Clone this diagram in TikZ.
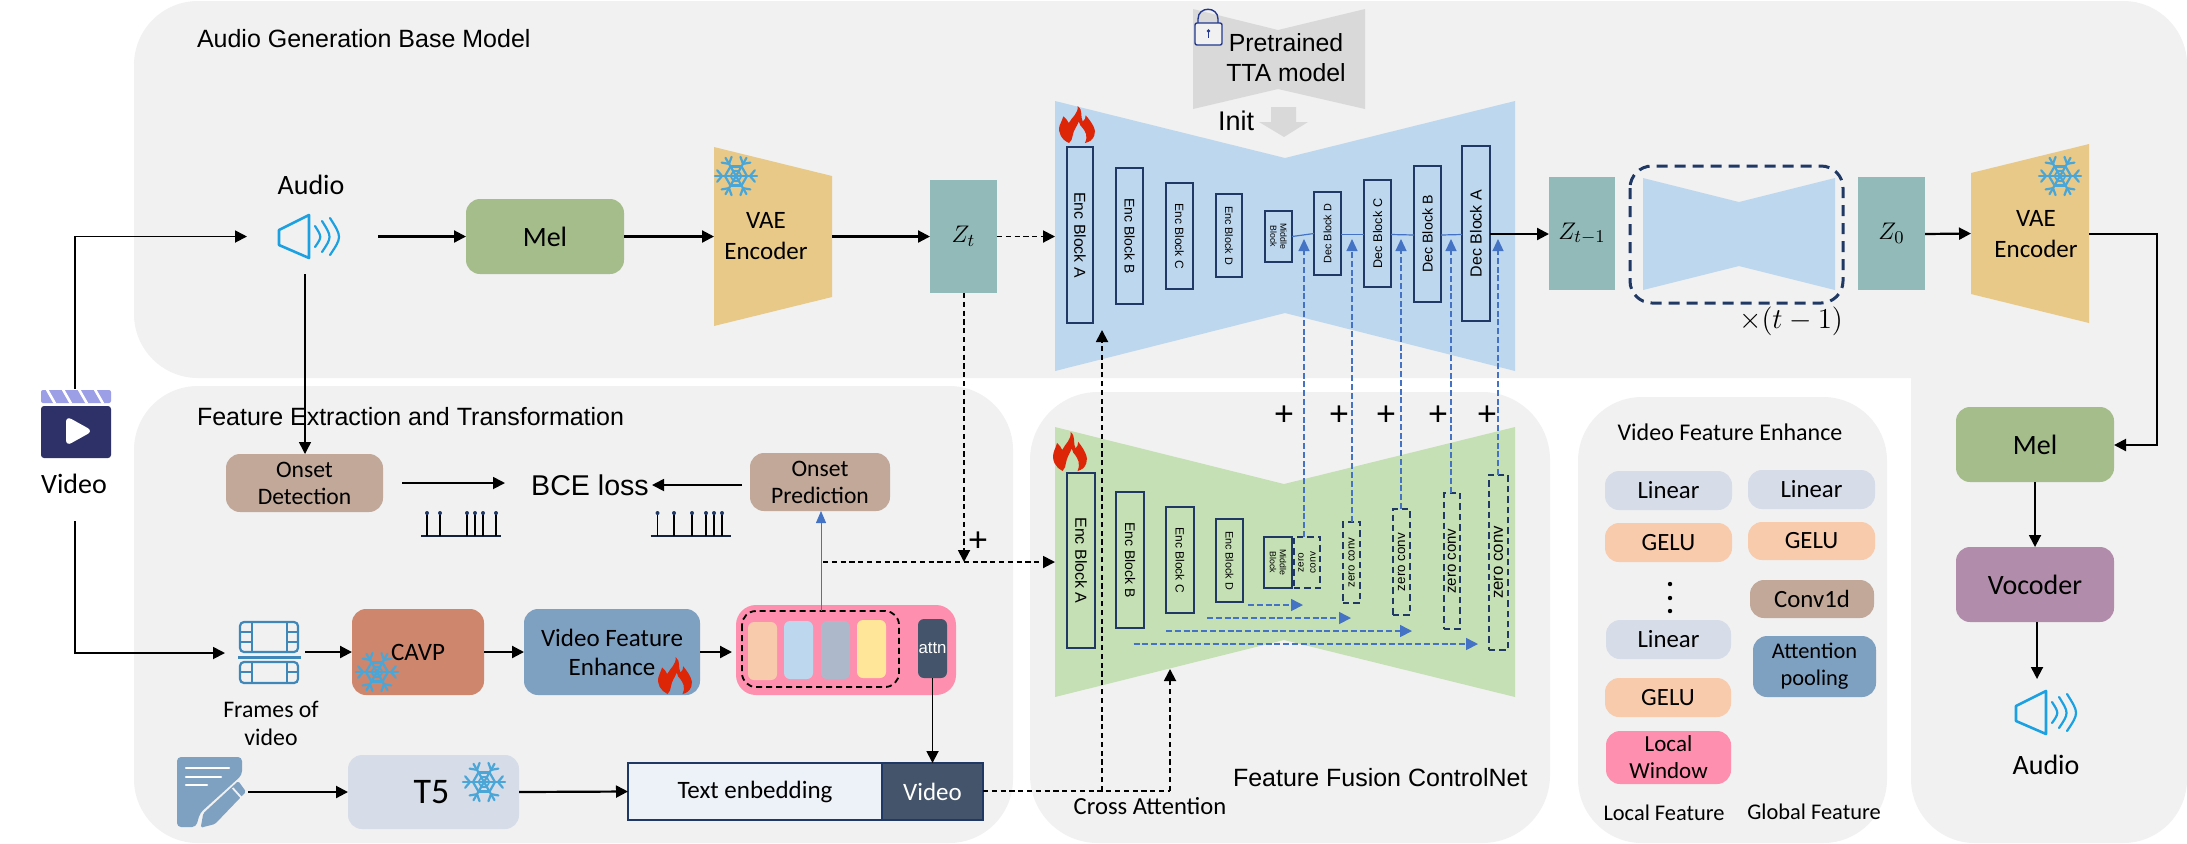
\documentclass[tikz,border=0pt]{standalone}
\usepackage{fontspec}
\setmainfont{Carlito}
\newfontfamily\ar{Liberation Sans}
\usetikzlibrary{arrows.meta,calc}
\definecolor{panelc}{HTML}{F1F1F1}
\definecolor{navyb}{HTML}{1F3864}
\definecolor{lockc}{HTML}{23388F}
\definecolor{bluef}{HTML}{BDD7EE}
\definecolor{greenf}{HTML}{C5E0B4}
\definecolor{melc}{HTML}{A5BD8B}
\definecolor{vaec}{HTML}{E9C987}
\definecolor{zc}{HTML}{91BAB9}
\definecolor{brownc}{HTML}{C1A899}
\definecolor{lbl}{HTML}{D6DCE8}
\definecolor{orng}{HTML}{F8CBAD}
\definecolor{pinkc}{HTML}{FF8FAE}
\definecolor{steel}{HTML}{7FA1C1}
\definecolor{slate}{HTML}{44546A}
\definecolor{terra}{HTML}{CE866C}
\definecolor{purp}{HTML}{B28DAB}
\definecolor{arblue}{HTML}{4472C4}
\definecolor{spkc}{HTML}{1BA1E2}
\definecolor{snowc}{HTML}{4BA6D8}
\definecolor{flamec}{HTML}{DD2508}
\definecolor{grayf}{HTML}{D9D9D9}
\definecolor{playn}{HTML}{2E3168}
\definecolor{lav}{HTML}{9C9EE6}
\definecolor{film}{HTML}{3F86B9}
\definecolor{bargray}{HTML}{ADB9CA}
\definecolor{baryel}{HTML}{FFE699}
\definecolor{txtfill}{HTML}{EDF2F9}
\newcommand{\fsz}[2]{\fontsize{#1}{#2}\selectfont}
\newcommand{\bx}[7]{%
 \pgfmathsetmacro\bxw{(#5-#3)*0.5}\pgfmathsetmacro\bxh{(#6-#4)*0.5}%
 \node[#1,minimum width=\bxw pt,minimum height=\bxh pt] (#2) at ({(#3+#5)/2},{(#4+#6)/2}) {#7};}
\newcommand{\flameicon}[4]{%
 \pgfmathsetmacro\fw{(#3-#1)*0.5}\pgfmathsetmacro\fh{(#4-#2)*0.5}%
 \begin{scope}[shift={(#1,#2)},x=\fw pt,y=-\fh pt]
 \fill[flamec] (0.28,1) .. controls (0.08,0.92) and (-0.05,0.72) .. (0.02,0.52)
  .. controls (0.05,0.42) and (0.1,0.38) .. (0.12,0.28)
  .. controls (0.2,0.34) and (0.24,0.4) .. (0.27,0.46)
  .. controls (0.36,0.3) and (0.54,0.2) .. (0.52,0)
  .. controls (0.68,0.12) and (0.58,0.28) .. (0.66,0.42)
  .. controls (0.72,0.38) and (0.74,0.32) .. (0.74,0.25)
  .. controls (0.92,0.45) and (1.05,0.65) .. (0.98,0.8)
  .. controls (0.93,0.92) and (0.85,0.97) .. (0.72,1)
  .. controls (0.82,0.8) and (0.72,0.68) .. (0.66,0.6)
  .. controls (0.62,0.56) and (0.56,0.5) .. (0.55,0.42)
  .. controls (0.5,0.55) and (0.4,0.65) .. (0.38,0.8)
  .. controls (0.37,0.88) and (0.34,0.95) .. (0.28,1) -- cycle;
 \end{scope}}
\newcommand{\snowicon}[2]{%
 \begin{scope}[shift={(#1,#2)},draw=snowc,line width=1.1pt,line cap=round]
 \foreach \a in {0,60,...,300}{
  \draw (0,0) -- ++(\a:21);
  \draw ($(\a:14)$) -- ++(\a+50:7.5);
  \draw ($(\a:14)$) -- ++(\a-50:7.5);
  \draw ($(\a:11)$) -- ($(\a+60:11)$);
  \draw[line width=.8pt] ($(\a:5.5)$) -- ($(\a+60:5.5)$);
 }
 \end{scope}}
\newcommand{\spkricon}[2]{%
 \begin{scope}[shift={(#1,#2)},draw=spkc,line join=round,line cap=round]
 \draw[line width=1.3pt] (30,0) -- (30,43) -- (0,30) -- (0,15) -- cycle;
 \draw[line width=1.1pt] (36,11) .. controls (43,22) .. (36,32);
 \draw[line width=1.1pt] (43,6) .. controls (53,22) .. (43,37);
 \draw[line width=1.1pt] (51,3) .. controls (63,22) .. (51,40);
 \end{scope}}
\tikzset{
 box/.style={inner sep=0pt,outer sep=0pt,rounded corners=7pt,fill=#1,align=center},
 plainlbl/.style={inner sep=0pt,outer sep=0pt,align=center},
 blockb/.style={inner sep=0pt,outer sep=0pt,draw=navyb,line width=1.1pt,align=center},
 zerob/.style={inner sep=0pt,outer sep=0pt,draw=navyb,line width=1pt,align=center,dash pattern=on 3.2pt off 2pt},
 arr/.style={line width=1.1pt,-{Triangle[length=6pt,width=6pt]}},
 thinarr/.style={line width=.7pt,-{Triangle[length=6pt,width=6pt]}},
 dasharr/.style={line width=.95pt,dash pattern=on 2.6pt off 1.8pt,-{Triangle[length=6pt,width=6pt]}},
 dashln/.style={line width=.95pt,dash pattern=on 2.6pt off 1.8pt},
 bluearr/.style={draw=arblue,line width=.6pt,dash pattern=on 3pt off 1.4pt,-{Triangle[length=6pt,width=5.5pt,fill=arblue]}},
 bluehz/.style={draw=arblue,line width=.8pt,dash pattern=on 3pt off 1.4pt,-{Triangle[length=6pt,width=6pt,fill=arblue]}},
 bluesolid/.style={draw=arblue,line width=.6pt},
 plussign/.style={inner sep=0pt,font=\ar\fsz{17}{18}},
}
\begin{document}
\begin{tikzpicture}[x=0.5pt,y=-0.5pt]
\useasboundingbox (0,0) rectangle (2187,843);
\fill[white] (0,0) rectangle (2187,843);
% panels
\fill[panelc,rounded corners=32pt] (134,1) rectangle (2187,378);
\fill[panelc,rounded corners=32pt] (1911,3) rectangle (2187,843);
\fill[panelc] (1950,300) rectangle (2100,378);
\fill[panelc,rounded corners=32pt] (134,386) rectangle (1013,843);
\fill[panelc,rounded corners=34pt] (1030,392) rectangle (1550,843);
\fill[panelc,rounded corners=32pt] (1578,397) rectangle (1887,843);
% titles
\node[plainlbl,font=\ar\fsz{12.5}{14},anchor=west] (ttlA) at (197,39) {Audio Generation Base Model};
\node[plainlbl,font=\ar\fsz{12.5}{14},anchor=west] (ttlF) at (197,417) {Feature Extraction and Transformation};
% ---- top row
\node[plainlbl,font=\fsz{14}{16}] (audioA) at (311,185) {Audio};
\spkricon{279}{215}
\coordinate (spkW) at (247,236.5);
\coordinate (spkE) at (378,236.5);
\coordinate (spkS) at (305,274);
\bx{box=melc}{mel}{466}{199}{624}{274}{\fsz{14}{16}Mel}
\fill[vaec] (714,147) -- (832,176) -- (832,297) -- (714,326) -- cycle;
\coordinate (vaeW) at (714,236.5);
\coordinate (vaeE) at (832,236.5);
\node[plainlbl,font=\fsz{12.5}{15.5}] (vaeT) at (766,236.5) {VAE\\Encoder};
\snowicon{736}{176}
\bx{fill=zc,plainlbl}{zt}{930}{180}{997}{293}{\fsz{13}{14}$Z_t$}
% pretrained
\fill[grayf] (1193,9) -- (1278,30) -- (1365,9) -- (1365,109) -- (1278,89) -- (1193,109) -- cycle;
\node[plainlbl,font=\ar\fsz{12.4}{15}] (pre) at (1286,58) {Pretrained\\TTA model};
\node[plainlbl,font=\ar\fsz{13.5}{15}] (initT) at (1236,121) {Init};
\fill[grayf] (1271,107) -- (1296,107) -- (1296,122) -- (1308,122) -- (1284,137) -- (1259,122) -- (1271,122) -- cycle;
% lock
\draw[lockc,line width=.7pt] (1198,23) -- (1198,19) .. controls (1198,6) and (1218,6) .. (1218,19) -- (1218,23);
\draw[lockc,line width=.7pt,fill=panelc,rounded corners=1pt] (1195,23) rectangle (1222,45);
\fill[lockc] (1208.5,31) circle (1.8);
\draw[lockc,line width=.7pt] (1208.5,31) -- (1208.5,38);
% blue unet
\fill[bluef] (1055,101) -- (1285,158) -- (1285,313) -- (1055,371) -- cycle;
\fill[bluef] (1515,101) -- (1285,158) -- (1285,313) -- (1515,371) -- cycle;
\flameicon{1059}{106}{1095}{143}
\bx{blockb}{encA}{1067}{147}{1093}{323}{\rotatebox{-90}{\ar\fsz{7.9}{9}Enc Block A}}
\bx{blockb}{encB}{1116}{168}{1143}{304}{\rotatebox{-90}{\ar\fsz{7}{8}Enc Block B}}
\bx{blockb}{encC}{1166}{183}{1193}{289}{\rotatebox{-90}{\ar\fsz{6}{7}Enc Block C}}
\bx{blockb}{encD}{1216}{194}{1242}{277}{\rotatebox{-90}{\ar\fsz{5.4}{6}Enc Block D}}
\bx{blockb}{midB}{1265}{211}{1292}{262}{\rotatebox{-90}{\parbox{20pt}{\centering\ar\fsz{4.4}{5}Middle\\Block}}}
\bx{blockb}{decD}{1314}{192}{1341}{275}{\rotatebox{90}{\ar\fsz{5.4}{6}Dec Block D}}
\bx{blockb}{decC}{1364}{180}{1391}{287}{\rotatebox{90}{\ar\fsz{6.3}{7}Dec Block C}}
\bx{blockb}{decB}{1414}{166}{1441}{302}{\rotatebox{90}{\ar\fsz{7.1}{8}Dec Block B}}
\bx{blockb}{decA}{1462}{146}{1490}{321}{\rotatebox{90}{\ar\fsz{8}{9}Dec Block A}}
\draw[bluesolid] (midB.east) -- (decD.west);
\draw[bluesolid] ([yshift=-0.5pt]decD.east) -- ([yshift=-0.5pt]decC.west);
\draw[bluesolid] ([yshift=-0.5pt]decC.east) -- ([yshift=-0.5pt]decB.west);
\draw[bluesolid] ([yshift=-0.5pt]decB.east) -- ([yshift=-0.5pt]decA.west);
% right of unet
\bx{fill=zc,plainlbl}{ztm}{1549}{177}{1615}{290}{\fsz{13}{14}$Z_{t-1}$}
\fill[bluef] (1643,178) -- (1739,202) -- (1739,266) -- (1643,290) -- cycle;
\fill[bluef] (1835,178) -- (1739,202) -- (1739,266) -- (1835,290) -- cycle;
\draw[navyb,line width=1.5pt,rounded corners=11pt,dash pattern=on 5.5pt off 3.5pt] (1630,166) rectangle (1843,303);
\node[plainlbl,font=\fsz{14}{15}] (mult) at (1791,321) {$\times(t-1)$};
\bx{fill=zc,plainlbl}{zz}{1858}{177}{1925}{290}{\fsz{13}{14}$Z_0$}
\fill[vaec] (1971,173) -- (2089,144) -- (2089,323) -- (1971,294) -- cycle;
\coordinate (vbW) at (1971,233.5);
\coordinate (vbE) at (2089,234);
\node[plainlbl,font=\fsz{12.5}{15.5}] (vbT) at (2036,234.5) {VAE\\Encoder};
\snowicon{2060}{176}
\draw[arr] (spkE) -- (mel.west);
\draw[arr] (mel.east) -- (vaeW);
\draw[arr] (vaeE) -- (zt.west);
\coordinate (unetW) at (1055,236.5);
\draw[dasharr] (zt.east) -- (unetW);
\draw[arr] (decA.east |- 0,234) -- (ztm.west |- 0,234);
\draw[arr] (zz.east |- 0,234) -- (vbW);
% right panel
\bx{box=melc}{melB}{1956}{407}{2114}{482}{\fsz{14}{16}Mel}
\bx{box=purp}{voc}{1956}{547}{2114}{622}{\fsz{14}{16}Vocoder}
\spkricon{2016}{691}
\node[plainlbl,font=\fsz{14}{16}] (audioB) at (2046,765) {Audio};
\coordinate (spkBN) at (2037,679);
\draw[arr] (vbE) -| (2157,445) -- (melB.east |- 0,445);
\draw[thinarr,line width=.9pt] (melB.south) -- (voc.north);
\draw[thinarr,line width=.9pt] (voc.south -| spkBN) -- (spkBN);
% video icon
\fill[lav,rounded corners=1pt] (41,390) rectangle (111,403);
\foreach \i in {0,1,2,3}{\draw[white,line width=1.3pt] ({47+\i*16},389.5) -- ({55+\i*16},403.5);}
\fill[playn,rounded corners=1.5pt] (41,406) rectangle (111,458);
\fill[white,rounded corners=3pt] (66,416) -- (93,431) -- (66,446) -- cycle;
\coordinate (vidN) at (75,389);
\coordinate (vidS) at (75,521);
\node[plainlbl,font=\fsz{14}{16}] (videoT) at (74,484) {Video};
\draw[arr,line width=.9pt] (vidN) |- (spkW);
% onset row
\bx{box=brownc,font=\fsz{11.8}{13.5}}{onD}{226}{454}{383}{512}{Onset\\Detection}
\bx{box=brownc,font=\fsz{11.8}{13.5}}{onP}{750}{453}{890}{511}{Onset\\Prediction}
\draw[thinarr] (spkS) -- (onD.north -| spkS);
\node[plainlbl,font=\ar\fsz{14.3}{16}] (bce) at (590,485) {BCE loss};
\coordinate (bceW) at (505,483);
\coordinate (odE) at (402,483);
\coordinate (bceE) at (652,485);
\coordinate (opW) at (742,485);
\draw[arr,line width=.9pt] (odE) -- (bceW);
\draw[arr,line width=.9pt] (opW) -- (bceE);
\draw[navyb!60!black,line width=.9pt] (421,536) -- (501,536);
\foreach \s in {427,440,467,475,483,496}{\draw[black,line width=.7pt] (\s,536) -- (\s,512); \fill[navyb] (\s,513) circle (2);}
\draw[navyb!60!black,line width=.9pt] (650.5,536) -- (731,536);
\foreach \s in {657.5,674,692,706,714,722}{\draw[black,line width=.7pt] (\s,536) -- (\s,512); \fill[navyb] (\s,513) circle (2);}
% frames row
\begin{scope}[draw=film,line width=1.1pt]
\draw[rounded corners=2pt] (240,652) -- (240,622) -- (298,622) -- (298,652) -- cycle;
\draw[rounded corners=2pt] (240,662) -- (240,683) -- (298,683) -- (298,662) -- cycle;
\draw (252,622) -- (252,652) (287,622) -- (287,652) (252,662) -- (252,683) (287,662) -- (287,683);
\foreach \yy in {632,642,672}{\draw (240,\yy) -- (252,\yy) (287,\yy) -- (298,\yy);}
\draw[line width=1.5pt] (238,657) -- (301,657);
\end{scope}
\coordinate (frW) at (225,653);
\coordinate (frE) at (305,652);
\node[plainlbl,font=\fsz{11.9}{14}] (frT) at (271,723) {Frames of\\video};
\draw[arr,line width=.9pt] (vidS) |- (frW);
\bx{box=terra}{cavp}{352}{609}{484}{695}{\fsz{12.5}{14}CAVP}
\snowicon{377}{672}
\bx{box=steel,font=\fsz{12.5}{14.5}}{vfe}{524}{609}{700}{695}{Video Feature\\Enhance}
\flameicon{658}{657}{692}{694}
\bx{box=pinkc,rounded corners=10pt}{pk}{736}{605}{956}{695}{}
\draw[arr] (frE) -- (cavp.west);
\draw[arr] (cavp.east) -- (vfe.west);
\coordinate (pkW) at (732,652);
\draw[arr] (vfe.east) -- (pkW);
\bx{box=orng,rounded corners=3pt}{ba}{748}{622}{777}{680}{}
\bx{box=bluef,rounded corners=3pt}{bb}{784}{621}{813}{679}{}
\bx{box=bargray,rounded corners=3pt}{bc}{821}{621}{850}{679}{}
\bx{box=baryel,rounded corners=3pt}{bd}{857}{620}{886}{678}{}
\draw[black,line width=.9pt,rounded corners=7pt,dash pattern=on 3pt off 2pt] (742,611) rectangle (899,687);
\bx{box=slate,rounded corners=3pt,text=white}{attn}{918}{619}{947}{678}{\ar\fsz{8.4}{10}attn}
\coordinate (dashTop) at (821,611);
\draw[line width=.4pt,draw=arblue,-{Triangle[length=6pt,width=5pt,fill=arblue]}] (dashTop) -- (onP.south -| dashTop);
% text row
\fill[steel,rounded corners=2pt] (177,757) -- (242,757) -- (242,775) -- (200,813) -- (196,827) -- (177,827) -- cycle;
\foreach \yy/\xe in {768/229,777/221,785/207}{\draw[white,line width=1.1pt,line cap=round] (186,\yy) -- (\xe,\yy);}
\fill[steel,rounded corners=.8pt] (238.3,781) -- (246,791.7) -- (215,824) -- (200.7,827.7) -- (203.3,813.3) -- cycle;
\draw[panelc,line width=.9pt] (232.7,788) -- (241.7,798);
\coordinate (docE) at (248,792);
\bx{box=lbl}{tf}{348}{755}{519}{829}{\hspace*{-2pt}\fsz{18}{20}T5}
\snowicon{484}{782}
\bx{inner sep=0pt,outer sep=0pt,fill=txtfill,draw=navyb,line width=1.1pt}{txt}{628}{763}{882}{820}{\fsz{12.5}{14}Text enbedding}
\bx{inner sep=0pt,outer sep=0pt,fill=slate,draw=navyb,line width=1.1pt,text=white}{vid}{882}{763}{983}{820}{\fsz{12.5}{14}Video}
\draw[arr] (docE) -- (tf.west);
\draw[arr] (tf.east) -- (txt.west);
\draw[thinarr,line width=.9pt] (attn.south) -- (attn.south |- vid.north);
% feature fusion
\fill[greenf] (1055,427) -- (1284,484) -- (1284,640) -- (1055,697) -- cycle;
\fill[greenf] (1515,427) -- (1284,484) -- (1284,640) -- (1515,697) -- cycle;
\flameicon{1053}{432}{1087}{471}
\bx{blockb}{gA}{1067}{473}{1095}{648}{\rotatebox{-90}{\ar\fsz{8}{9}Enc Block A}}
\bx{blockb}{gB}{1116}{492}{1144}{628}{\rotatebox{-90}{\ar\fsz{7}{8}Enc Block B}}
\bx{blockb}{gC}{1166}{507}{1194}{613}{\rotatebox{-90}{\ar\fsz{6}{7}Enc Block C}}
\bx{blockb}{gD}{1216}{519}{1243}{602}{\rotatebox{-90}{\ar\fsz{5.4}{6}Enc Block D}}
\bx{blockb}{gM}{1264}{537}{1292}{588}{\rotatebox{-90}{\parbox{20pt}{\centering\ar\fsz{4.4}{5}Middle\\Block}}}
\bx{zerob}{zA}{1294}{537}{1320}{588}{\rotatebox{90}{\parbox{20pt}{\centering\ar\fsz{5}{6}zero\\conv}}}
\bx{zerob}{zB}{1343}{522}{1360}{603}{\rotatebox{90}{\ar\fsz{5.7}{6}zero conv}}
\bx{zerob}{zC}{1393}{509}{1410}{615}{\rotatebox{90}{\ar\fsz{6.7}{7}zero conv}}
\bx{zerob}{zD}{1444}{493}{1460}{629}{\rotatebox{90}{\ar\fsz{7.5}{8}zero conv}}
\bx{zerob}{zE}{1489}{475}{1508}{650}{\rotatebox{90}{\ar\fsz{8.4}{9}zero conv}}
\foreach \xx/\src/\t in {1304/zA/239,1352/zB/239,1401/zC/239,1451/zD/239,1498/zE/239}{
 \coordinate (tipc) at (\xx,\t);
 \draw[bluearr] (\src.north -| tipc) -- (tipc);
}
\coordinate (h1a) at (1248,605); \coordinate (h1b) at (1303,605);
\coordinate (h2a) at (1207,618); \coordinate (h2b) at (1351,618);
\coordinate (h3a) at (1166,631); \coordinate (h3b) at (1412,631);
\coordinate (h4a) at (1133.5,644); \coordinate (h4b) at (1478,644);
\draw[bluehz] (h1a) -- (h1b);
\draw[bluehz] (h2a) -- (h2b);
\draw[bluehz] (h3a) -- (h3b);
\draw[bluehz] (h4a) -- (h4b);
\foreach \xx/\nm in {1284/pa,1339/pb,1386/pc,1438/pd,1487/pe}{\node[plussign] (\nm) at (\xx,416) {+};}
\node[plussign] (pz) at (978,542) {+};
% black dashed
\coordinate (zdn) at (964,562);
\draw[dasharr] (zt.south -| zdn) -- (zdn);
\coordinate (crossS) at (823,562);
\coordinate (gW) at (1055,562);
\draw[dasharr] (crossS) -- (gW);
\coordinate (cjA) at (1102,791);
\coordinate (cjB) at (1170,791);
\coordinate (tipA) at (1102,330);
\coordinate (tipB) at (1170,669);
\draw[dashln] (vid.east |- cjB) -- (cjB);
\draw[dasharr] (cjA) -- (tipA);
\draw[dasharr] (cjB) -- (tipB);
\node[plainlbl,font=\fsz{12.3}{14}] (cross) at (1150,806) {Cross Attention};
\node[plainlbl,font=\ar\fsz{12.5}{14},anchor=west] (fusion) at (1233,778) {Feature Fusion ControlNet};
% VFE panel
\node[plainlbl,font=\fsz{12}{14}] (vfeT) at (1730,432) {Video Feature Enhance};
\bx{box=lbl}{l1}{1605}{471}{1732}{510}{\fsz{12.4}{14}Linear}
\bx{box=orng}{l2}{1605}{523}{1732}{562}{\fsz{12.4}{14}GELU}
\fill (1670,584) circle (2.2);
\fill (1670,598) circle (2.2);
\fill (1670,611) circle (2.2);
\bx{box=lbl}{l3}{1606}{620}{1731}{659}{\fsz{12.4}{14}Linear}
\bx{box=orng}{l4}{1605}{678}{1731}{717}{\fsz{12.4}{14}GELU}
\bx{box=pinkc,font=\fsz{11.5}{13.5}}{l5}{1606}{731}{1731}{784}{Local\\Window}
\node[plainlbl,font=\fsz{11.2}{13}] (lf) at (1664,813) {Local Feature};
\node[plainlbl,font=\fsz{11.2}{13}] (gf) at (1814,812) {Global Feature};
\bx{box=lbl}{r1}{1748}{470}{1875}{509}{\fsz{12.4}{14}Linear}
\bx{box=orng}{r2}{1748}{522}{1875}{560}{\fsz{12.4}{14}GELU}
\bx{box=brownc}{r3}{1750}{580}{1874}{618}{\fsz{12.4}{14}Conv1d}
\bx{box=steel,font=\fsz{11.2}{13.5}}{r4}{1753}{636}{1876}{697}{Attention\\pooling}
\end{tikzpicture}
\end{document}
